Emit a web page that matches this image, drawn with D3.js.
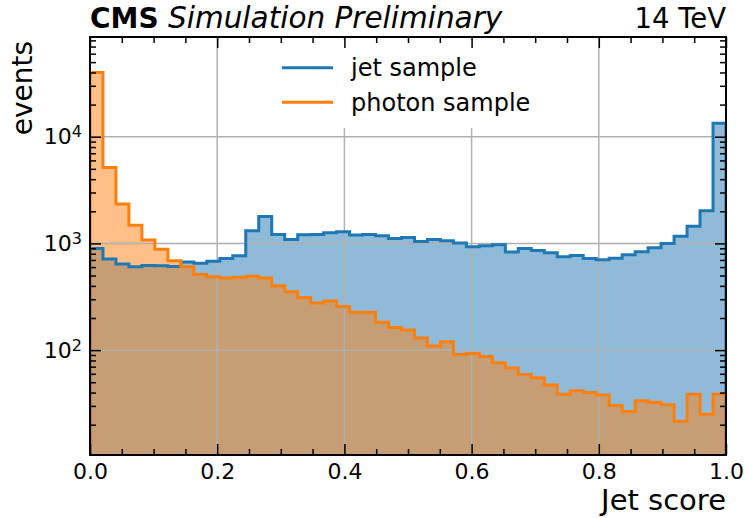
<!DOCTYPE html>
<html>
<head>
<meta charset="utf-8">
<script src="https://cdn.jsdelivr.net/npm/d3@7"></script>
<style>
  body { margin: 0; background: #fff; }
  svg { font-family: "DejaVu Sans", sans-serif; }
</style>
</head>
<body>
<div id="chart"></div>
<script>
// histogram: 49 equal bins on [0, 1]
const nBins = 49;
const binEdges = d3.range(nBins + 1).map(i => i / nBins);

const jetCounts = [
  898, 713, 640, 604, 622, 617, 608, 668, 653, 680,
  723, 766, 1312, 1790, 1213, 1089, 1205, 1213, 1259, 1285,
  1197, 1213, 1178, 1113, 1138, 1044, 1089, 1059, 1010, 929,
  950, 971, 829, 898, 859, 817, 749, 771, 723, 703,
  728, 782, 834, 909, 1000, 1170, 1452, 2022, 13340
];
const photonCounts = [
  40000, 5150, 2340, 1480, 1075, 880, 688, 604, 512, 486,
  473, 483, 493, 473, 401, 352, 312, 277, 288, 257,
  226, 226, 182, 163, 154, 130, 109, 120, 91, 93,
  87, 76, 68, 59, 55, 47, 38.5, 41.6, 40, 38,
  30.3, 26.6, 33.5, 32.4, 30.7, 21.6, 38.5, 25.1, 38.5
];
const seriesNames = ['jet sample', 'photon sample'];
const seriesColors = ['#1f77b4', '#ff7f0e'];
const xTicks = [0, 0.2, 0.4, 0.6, 0.8, 1.0];
const yDecades = [100, 1000, 10000];

const width = 748, height = 518;
const margin = {top: 37, right: 22, bottom: 63, left: 90};
const x0 = margin.left, x1 = width - margin.right;
const y0 = height - margin.bottom, y1 = margin.top;

const x = d3.scaleLinear().domain([0, 1]).range([x0, x1]);
const y = d3.scaleLog().domain([10.4, 86000]).range([y0, y1]);

const svg = d3.select('#chart').append('svg')
  .attr('width', width)
  .attr('height', height);

svg.append('defs').append('clipPath').attr('id', 'plot-clip')
  .append('rect')
  .attr('x', x0).attr('y', y1)
  .attr('width', x1 - x0).attr('height', y0 - y1);

function stepPoints(counts) {
  var pts = [];
  counts.forEach(function(c, i) {
    pts.push([binEdges[i], c]);
    pts.push([binEdges[i + 1], c]);
  });
  return pts;
}

var plot = svg.append('g').attr('clip-path', 'url(#plot-clip)');
var series = [jetCounts, photonCounts];

var area = d3.area()
  .x(d => x(d[0]))
  .y0(y0 + 5)
  .y1(d => y(d[1]));

series.forEach(function(counts, i) {
  plot.append('path')
    .attr('d', area(stepPoints(counts)))
    .attr('fill', seriesColors[i])
    .attr('fill-opacity', 0.5);
});

// grid
var grid = plot.append('g').attr('stroke', '#b0b0b0').attr('stroke-width', 1.5);
xTicks.slice(1, -1).forEach(function(t) {
  grid.append('line').attr('x1', x(t)).attr('x2', x(t)).attr('y1', y1).attr('y2', y0);
});
yDecades.forEach(function(t) {
  grid.append('line').attr('x1', x0).attr('x2', x1).attr('y1', y(t)).attr('y2', y(t));
});

var line = d3.line()
  .x(d => x(d[0]))
  .y(d => d[1] === null ? y0 + 5 : y(d[1]));

series.forEach(function(counts, i) {
  var pts = [[0, null]].concat(stepPoints(counts), [[1, null]]);
  plot.append('path')
    .attr('d', line(pts))
    .attr('fill', 'none')
    .attr('stroke', seriesColors[i])
    .attr('stroke-width', 3);
});

// legend
var legend = svg.append('g');
legend.append('rect')
  .attr('x', 270).attr('y', 40)
  .attr('width', 275).attr('height', 88)
  .attr('fill', '#fff');
seriesNames.forEach(function(name, i) {
  var ly = 67.7 + i * 34.6;
  legend.append('line')
    .attr('x1', 282).attr('x2', 333)
    .attr('y1', ly).attr('y2', ly)
    .attr('stroke', seriesColors[i])
    .attr('stroke-width', 3);
  legend.append('text')
    .attr('x', 351).attr('y', ly + 8.5)
    .style('font-size', '24px')
    .text(name);
});

// axes, ticks point inward
var xMinor = d3.range(0, 1.0001, 0.05).filter(v => Math.abs(v * 5 - Math.round(v * 5)) > 1e-6);

function styleAxis(g) {
  g.select('.domain').remove();
  g.selectAll('.tick line').attr('stroke', '#000').attr('stroke-width', 1.5);
  g.selectAll('.tick text').attr('fill', '#000').style('font-size', '22px')
    .style('font-family', '"DejaVu Sans", sans-serif');
}

svg.append('g')
  .attr('transform', 'translate(0,' + y0 + ')')
  .call(d3.axisBottom(x).tickValues(xTicks).tickSize(-11).tickPadding(8)
    .tickFormat(d3.format('.1f')))
  .call(styleAxis);
svg.append('g')
  .attr('transform', 'translate(0,' + y0 + ')')
  .call(d3.axisBottom(x).tickValues(xMinor).tickSize(-6).tickFormat(''))
  .call(styleAxis);
svg.append('g')
  .attr('transform', 'translate(0,' + y1 + ')')
  .call(d3.axisTop(x).tickValues(xTicks).tickSize(-11).tickFormat(''))
  .call(styleAxis);
svg.append('g')
  .attr('transform', 'translate(0,' + y1 + ')')
  .call(d3.axisTop(x).tickValues(xMinor).tickSize(-6).tickFormat(''))
  .call(styleAxis);

var yMinor = y.ticks().filter(v => yDecades.indexOf(v) < 0 && Math.abs(Math.log10(v) % 1) > 1e-6);

var yAxisLeft = svg.append('g')
  .attr('transform', 'translate(' + x0 + ',0)')
  .call(d3.axisLeft(y).tickValues(yDecades).tickSize(-11).tickPadding(8).tickFormat(''))
  .call(styleAxis);
yAxisLeft.selectAll('.tick text').each(function(d) {
  var t = d3.select(this).text(null).attr('x', -8);
  t.append('tspan').text('10');
  t.append('tspan').attr('dy', -7).style('font-size', '16px').text(Math.round(Math.log10(d)));
});
svg.append('g')
  .attr('transform', 'translate(' + x0 + ',0)')
  .call(d3.axisLeft(y).tickValues(yMinor).tickSize(-6).tickFormat(''))
  .call(styleAxis);
svg.append('g')
  .attr('transform', 'translate(' + x1 + ',0)')
  .call(d3.axisRight(y).tickValues(yDecades).tickSize(-11).tickFormat(''))
  .call(styleAxis);
svg.append('g')
  .attr('transform', 'translate(' + x1 + ',0)')
  .call(d3.axisRight(y).tickValues(yMinor).tickSize(-6).tickFormat(''))
  .call(styleAxis);

// frame
svg.append('rect')
  .attr('x', x0).attr('y', y1)
  .attr('width', x1 - x0).attr('height', y0 - y1)
  .attr('fill', 'none')
  .attr('stroke', '#000')
  .attr('stroke-width', 2);

// labels
svg.append('text')
  .attr('x', x1).attr('y', 510)
  .attr('text-anchor', 'end')
  .style('font-size', '29px')
  .text('Jet score');

svg.append('text')
  .attr('transform', 'translate(32,' + (y1 + 4) + ') rotate(-90)')
  .attr('text-anchor', 'end')
  .style('font-size', '28px')
  .text('events');

svg.append('text')
  .attr('x', x0).attr('y', 28)
  .style('font-size', '28px')
  .style('font-weight', 'bold')
  .text('CMS');
svg.append('text')
  .attr('x', 168).attr('y', 28)
  .style('font-size', '29.5px')
  .style('font-style', 'italic')
  .text('Simulation Preliminary');

svg.append('text')
  .attr('x', x1).attr('y', 28)
  .attr('text-anchor', 'end')
  .style('font-size', '27.5px')
  .text('14 TeV');
</script>
</body>
</html>
